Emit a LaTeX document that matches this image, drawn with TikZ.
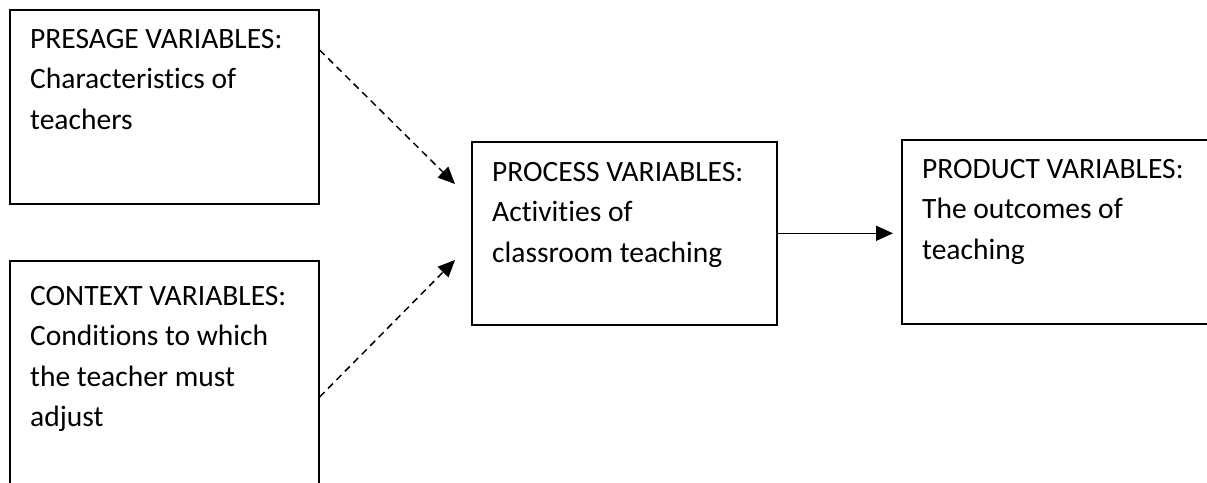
\documentclass[tikz,border=0pt]{standalone}
\usepackage{fontspec}
\setmainfont{Carlito}[Ligatures=NoCommon]
\usetikzlibrary{arrows.meta}

\begin{document}
\begin{tikzpicture}[
        x=1pt, y=-1pt,
        varbox/.style={rectangle, draw, line width=1.6pt, anchor=north west, inner sep=0pt},
        vartext/.style={anchor=north west, align=left, inner sep=0pt, font=\fontsize{29.5}{40.5}\selectfont},
        influence/.style={-{Triangle[length=17pt, width=15pt]}, line width=1.5pt, dash pattern=on 7pt off 5pt},
        leadsto/.style={-{Triangle[length=17pt, width=15pt]}, line width=1.6pt}
    ]
        \clip (0,0) rectangle (1207,482);

        % Boxes
        \node[varbox, minimum width=309pt, minimum height=194pt] (presage) at (9,9) {};
        \node[varbox, minimum width=309pt, minimum height=260pt] (context) at (9,260) {};
        \node[varbox, minimum width=305pt, minimum height=183pt] (process) at (471,141) {};
        \node[varbox, minimum width=340pt, minimum height=184pt] (product) at (901,139) {};

        % Texts in each box
        \node[vartext] (presagetext) at (30,29) {PRESAGE VARIABLES:\\Characteristics of\\teachers};
        \node[vartext] (contexttext) at (30,286) {CONTEXT VARIABLES:\\Conditions to which\\the teacher must\\adjust};
        \node[vartext] (processtext) at (492,162) {PROCESS VARIABLES:\\Activities of\\classroom teaching};
        \node[vartext] (producttext) at (922,159) {PRODUCT VARIABLES:\\The outcomes of\\teaching};

        \draw[influence] ([yshift=-41pt]presage.north east) -- ([xshift=-16pt, yshift=-43pt]process.north west);
        \draw[influence] ([yshift=-137pt]context.north east) -- ([xshift=-16pt, yshift=-119pt]process.north west);
        \draw[leadsto, shorten >=8pt] (process.east) -- (process.east -| product.west);
    \end{tikzpicture}
\end{document}
